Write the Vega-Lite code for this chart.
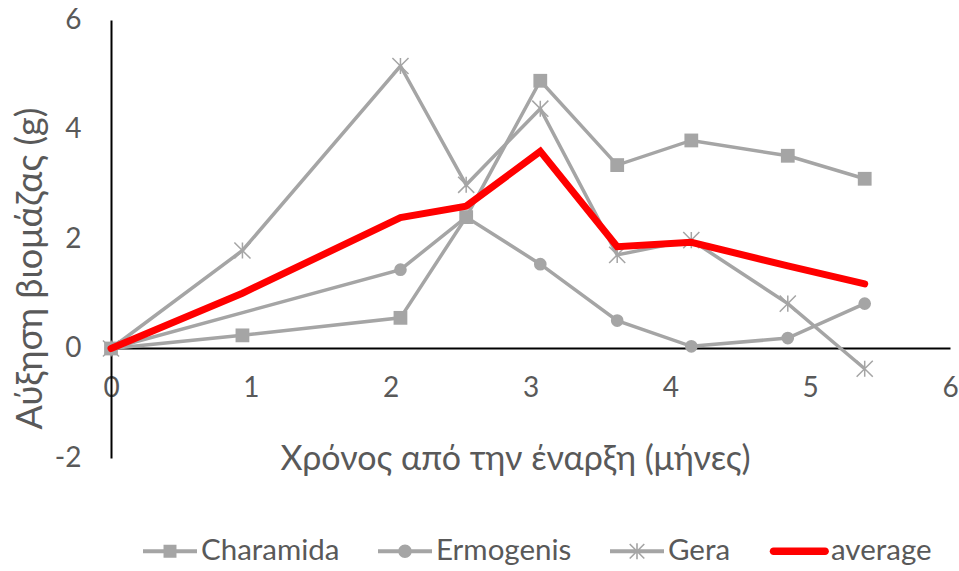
{
  "$schema": "https://vega.github.io/schema/vega-lite/v6.json",
  "width": 839,
  "height": 438,
  "autosize": {"type": "none"},
  "padding": {"left": 111, "top": 20, "right": 9, "bottom": 113},
  "background": "white",
  "config": {
    "view": {"stroke": null},
    "font": "Lato",
    "axis": {"labelFont": "Lato", "titleFont": "Lato", "labelColor": "#595959", "titleColor": "#595959", "titleFontWeight": "normal", "grid": false, "ticks": false, "domainColor": "#000000", "domainWidth": 2},
    "legend": {"labelFont": "Lato", "labelColor": "#595959"}
  },
  "datasets": {
    "growth": [
      {"series": "Charamida", "x": 0, "y": 0},
      {"series": "Charamida", "x": 0.94, "y": 0.24},
      {"series": "Charamida", "x": 2.07, "y": 0.56},
      {"series": "Charamida", "x": 2.54, "y": 2.40},
      {"series": "Charamida", "x": 3.07, "y": 4.89},
      {"series": "Charamida", "x": 3.62, "y": 3.35},
      {"series": "Charamida", "x": 4.15, "y": 3.80},
      {"series": "Charamida", "x": 4.84, "y": 3.52},
      {"series": "Charamida", "x": 5.39, "y": 3.10},
      {"series": "Ermogenis", "x": 0, "y": 0},
      {"series": "Ermogenis", "x": 2.07, "y": 1.44},
      {"series": "Ermogenis", "x": 2.54, "y": 2.40},
      {"series": "Ermogenis", "x": 3.07, "y": 1.54},
      {"series": "Ermogenis", "x": 3.62, "y": 0.51},
      {"series": "Ermogenis", "x": 4.15, "y": 0.04},
      {"series": "Ermogenis", "x": 4.84, "y": 0.19},
      {"series": "Ermogenis", "x": 5.39, "y": 0.82},
      {"series": "Gera", "x": 0, "y": 0},
      {"series": "Gera", "x": 0.94, "y": 1.79},
      {"series": "Gera", "x": 2.07, "y": 5.16},
      {"series": "Gera", "x": 2.54, "y": 2.99},
      {"series": "Gera", "x": 3.07, "y": 4.38},
      {"series": "Gera", "x": 3.62, "y": 1.71},
      {"series": "Gera", "x": 4.15, "y": 1.98},
      {"series": "Gera", "x": 4.84, "y": 0.82},
      {"series": "Gera", "x": 5.39, "y": -0.37},
      {"series": "average", "x": 0, "y": 0},
      {"series": "average", "x": 0.94, "y": 1.01},
      {"series": "average", "x": 2.07, "y": 2.39},
      {"series": "average", "x": 2.54, "y": 2.60},
      {"series": "average", "x": 3.07, "y": 3.60},
      {"series": "average", "x": 3.62, "y": 1.86},
      {"series": "average", "x": 4.15, "y": 1.94},
      {"series": "average", "x": 4.84, "y": 1.51},
      {"series": "average", "x": 5.39, "y": 1.18}
    ]
  },
  "data": {"name": "growth"},
  "encoding": {
    "x": {
      "field": "x", "type": "quantitative",
      "scale": {"domain": [0, 6], "nice": false, "zero": false},
      "axis": {
        "title": "Χρόνος από την έναρξη (μήνες)",
        "values": [0, 1, 2, 3, 4, 5, 6],
        "offset": -110,
        "labelFontSize": 28,
        "labelPadding": 26,
        "labelFlush": false,
        "labelOverlap": false,
        "labelBound": false,
        "titleFontSize": 34,
        "titleX": 404,
        "titleY": 111,
        "titleBaseline": "middle",
        "titleAnchor": null,
        "titleAlign": "center"
      }
    },
    "y": {
      "field": "y", "type": "quantitative",
      "scale": {"domain": [-2, 6], "nice": false, "zero": false},
      "axis": {
        "title": "Αύξηση βιομάζας (g)",
        "values": [-2, 0, 2, 4, 6],
        "labelExpr": "toString(datum.value)",
        "labelFontSize": 28,
        "labelPadding": 30,
        "labelFlush": false,
        "labelOverlap": false,
        "labelBound": false,
        "titleFontSize": 36,
        "titleX": -81,
        "titleY": 248,
        "titleBaseline": "middle",
        "titleAlign": "center",
        "titleAngle": 270
      }
    }
  },
  "layer": [
    {
      "transform": [{"filter": "datum.series !== 'average'"}],
      "mark": {"type": "line", "color": "#A5A5A5", "strokeWidth": 3.5},
      "encoding": {"detail": {"field": "series"}}
    },
    {
      "transform": [{"filter": "datum.series === 'Charamida'"}],
      "mark": {"type": "point", "shape": "square", "filled": true, "color": "#A5A5A5", "opacity": 1, "size": 190}
    },
    {
      "transform": [{"filter": "datum.series === 'Ermogenis'"}],
      "mark": {"type": "point", "shape": "circle", "filled": true, "color": "#A5A5A5", "opacity": 1, "size": 160}
    },
    {
      "transform": [{"filter": "datum.series === 'Gera'"}],
      "mark": {"type": "point", "shape": "M-1,-1L1,1M-1,1L1,-1M0,-1L0,1", "filled": false, "color": "#A5A5A5", "opacity": 1, "size": 260, "strokeWidth": 1.5}
    },
    {
      "transform": [{"filter": "datum.series === 'average'"}],
      "mark": {"type": "line", "color": "#FF0000", "strokeWidth": 7, "strokeCap": "round", "strokeJoin": "miter"}
    },
    {
      "transform": [{"filter": "false"}],
      "mark": {"type": "point", "filled": true, "opacity": 1},
      "encoding": {
        "color": {
          "field": "series", "type": "nominal",
          "scale": {"domain": ["Charamida", "Ermogenis", "Gera", "average"], "range": ["#A5A5A5", "#A5A5A5", "#A5A5A5", "#FF0000"]},
          "legend": {
            "title": null,
            "orient": "none",
            "direction": "horizontal",
            "legendX": 32,
            "legendY": 504,
            "symbolSize": 2916,
            "symbolStrokeWidth": 0,
            "symbolOpacity": 1,
            "labelFontSize": 29.5,
            "labelOffset": 4,
            "columnPadding": 38
          }
        },
        "shape": {
          "field": "series", "type": "nominal",
          "scale": {
            "domain": ["Charamida", "Ermogenis", "Gera", "average"],
            "range": [
              "M-1,-0.075H1V0.075H-1Z M-0.24,-0.24H0.24V0.24H-0.24Z",
              "M-1,-0.075H1V0.075H-1Z M-0.25,0A0.25,0.25 0 1,1 0.25,0A0.25,0.25 0 1,1 -0.25,0Z",
              "M-1,-0.075H1V0.075H-1Z M-0.03,-0.3H0.03V0.3H-0.03Z M-0.249,-0.291L0.291,0.249L0.249,0.291L-0.291,-0.249Z M-0.249,0.291L-0.291,0.249L0.249,-0.291L0.291,-0.249Z",
              "M-0.98,-0.14H0.93A0.14,0.14 0 0,1 0.93,0.14H-0.98A0.14,0.14 0 0,1 -0.98,-0.14Z"
            ]
          },
          "legend": null
        }
      }
    }
  ]
}
